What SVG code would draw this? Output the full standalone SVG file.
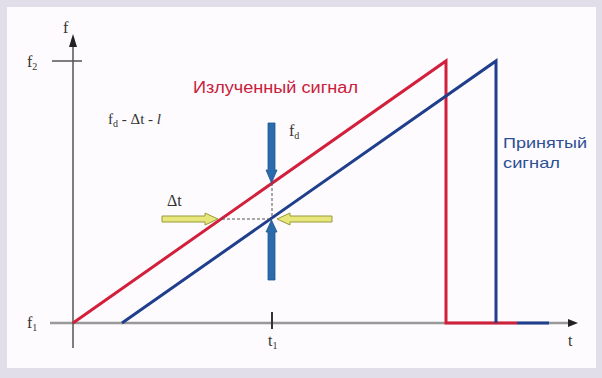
<svg xmlns="http://www.w3.org/2000/svg" width="602" height="378" viewBox="0 0 602 378">
<style>
.serif{font-family:"Liberation Serif","DejaVu Serif",serif;fill:#333;}
.sans{font-family:"Liberation Sans",Arial,sans-serif;}
.red{stroke:#d21f3c;stroke-width:3;fill:none;}
.blue{stroke:#1f3f8c;stroke-width:3;fill:none;}
.barrow{fill:#2c6bab;stroke:#1d5590;stroke-width:0.8;}
.yarrow{fill:#e6e67a;stroke:#9a9a3c;stroke-width:1;}
.dash{stroke:#555;stroke-width:1;stroke-dasharray:3 2;fill:none;}
</style>
<rect x="0" y="0" width="602" height="378" fill="#e1deea"/>
<rect x="7" y="7" width="589" height="361" fill="#fdfbfd"/>
<g id="axes">
  <line x1="50" y1="323" x2="568" y2="323" stroke="#999" stroke-width="2.5"/>
  <polygon points="568,319 578,323 568,327" fill="#222"/>
  <line x1="73" y1="348" x2="73" y2="46" stroke="#555" stroke-width="1.5"/>
  <polygon points="69,47 73,34 77,47" fill="#222"/>
  <line x1="52" y1="61" x2="82" y2="61" stroke="#555" stroke-width="1.5"/>
  <line x1="272" y1="312" x2="272" y2="329" stroke="#333" stroke-width="2"/>
</g>
<g id="signals">
  <polyline class="red" points="73,323 446,61 446,323 517,323"/>
  <polyline class="blue" points="122,323 496,61 496,323"/>
  <line x1="517" y1="323" x2="549" y2="323" stroke="#1f3f8c" stroke-width="3"/>
</g>
<g id="connectors">
  <line class="dash" x1="272" y1="183" x2="272" y2="219"/>
  <line class="dash" x1="222" y1="219" x2="272" y2="219"/>
  <polygon class="barrow" points="268,123 275,123 275,170 277,170 271.5,183 266,170 268,170"/>
  <polygon class="barrow" points="268,280 275,280 275,232 277,232 271.5,220 266,232 268,232"/>
  <polygon class="yarrow" points="162,216 205,216 205,213 218,219 205,225 205,222 162,222"/>
  <polygon class="yarrow" points="332,216 290,216 290,213 277,219 290,225 290,222 332,222"/>
</g>
<g id="labels">
  <text class="serif" x="63" y="33" font-size="16">f</text>
  <text class="serif" x="27" y="67" font-size="16">f<tspan font-size="10" dy="3">2</tspan></text>
  <text class="serif" x="27" y="328" font-size="16">f<tspan font-size="10" dy="3">1</tspan></text>
  <text class="serif" x="268" y="346" font-size="16">t<tspan font-size="10" dy="3">1</tspan></text>
  <text class="serif" x="568" y="346" font-size="16">t</text>
  <text class="serif" x="108" y="124" font-size="15">f<tspan font-size="10" dy="3">d</tspan><tspan dy="-3"> - Δt - </tspan><tspan font-style="italic">l</tspan></text>
  <text class="serif" x="289" y="136" font-size="16">f<tspan font-size="10" dy="3">d</tspan></text>
  <text class="serif" x="167" y="206" font-size="16">Δt</text>
  <text class="sans" x="193" y="93" font-size="16" fill="#c8203c" textLength="165" lengthAdjust="spacingAndGlyphs">Излученный сигнал</text>
  <text class="sans" x="503" y="148" font-size="15" fill="#2d4f96" textLength="84" lengthAdjust="spacingAndGlyphs">Принятый</text>
  <text class="sans" x="503" y="168" font-size="15" fill="#2d4f96" textLength="57" lengthAdjust="spacingAndGlyphs">сигнал</text>
</g>
</svg>
